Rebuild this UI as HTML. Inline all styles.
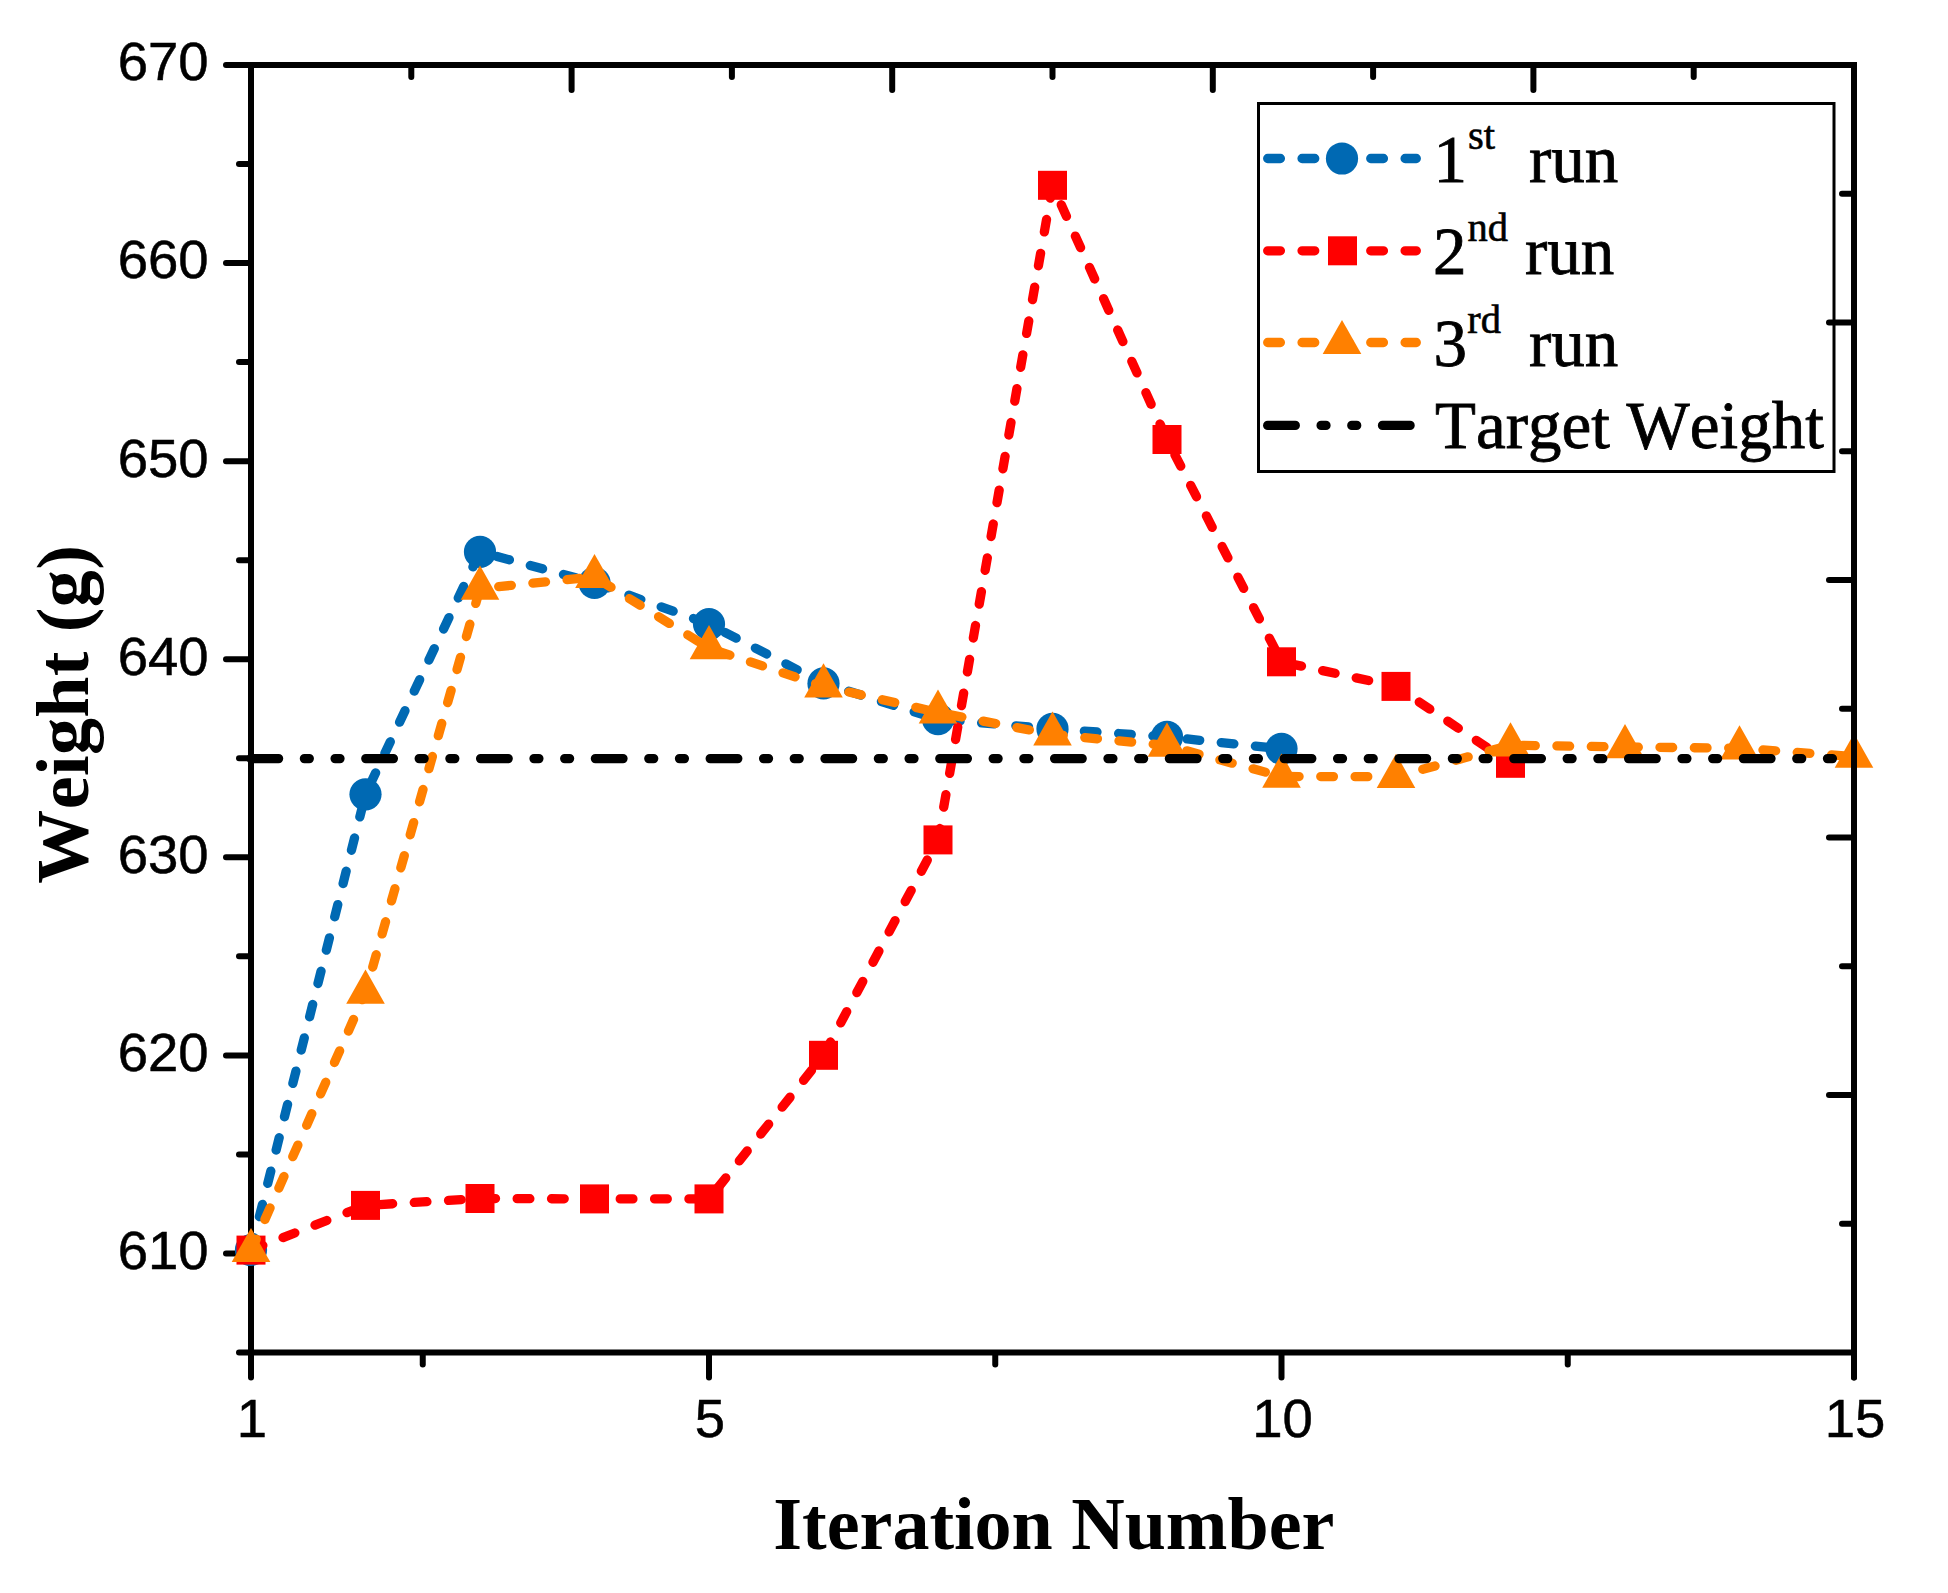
<!DOCTYPE html>
<html lang="en"><head><meta charset="utf-8"><title>Weight vs Iteration Number</title>
<style>html,body{margin:0;padding:0;background:#fff}svg{display:block}text{font-kerning:none}.tk{font-family:"Liberation Sans",sans-serif;font-size:54.5px;fill:#000;stroke:#000;stroke-width:.5px}.lg{font-family:"Liberation Serif",serif;font-size:67px;fill:#000;stroke:#000;stroke-width:.8px}.sp{font-family:"Liberation Serif",serif;font-size:40.5px;fill:#000;stroke:#000;stroke-width:.6px}.ti{font-family:"Liberation Serif",serif;font-size:74px;font-weight:bold;fill:#000}</style></head><body>
<svg width="1948" height="1593" viewBox="0 0 1948 1593">
<rect width="1948" height="1593" fill="#fff"/>
<g stroke="#000" stroke-width="6" stroke-linecap="round" fill="none">
<line x1="251.0" y1="65.0" x2="251.0" y2="1352.5" stroke-linecap="butt"/>
<line x1="251.0" y1="1352.5" x2="1854.0" y2="1352.5" stroke-linecap="butt"/>
<line x1="250.0" y1="1352.50" x2="239" y2="1352.50"/>
<line x1="250.0" y1="1253.46" x2="226" y2="1253.46"/>
<line x1="250.0" y1="1154.42" x2="239" y2="1154.42"/>
<line x1="250.0" y1="1055.38" x2="226" y2="1055.38"/>
<line x1="250.0" y1="956.35" x2="239" y2="956.35"/>
<line x1="250.0" y1="857.31" x2="226" y2="857.31"/>
<line x1="250.0" y1="758.27" x2="239" y2="758.27"/>
<line x1="250.0" y1="659.23" x2="226" y2="659.23"/>
<line x1="250.0" y1="560.19" x2="239" y2="560.19"/>
<line x1="250.0" y1="461.15" x2="226" y2="461.15"/>
<line x1="250.0" y1="362.12" x2="239" y2="362.12"/>
<line x1="250.0" y1="263.08" x2="226" y2="263.08"/>
<line x1="250.0" y1="164.04" x2="239" y2="164.04"/>
<line x1="250.0" y1="65.00" x2="226" y2="65.00"/>
<line x1="251.0" y1="1353.5" x2="251.0" y2="1377.5"/>
<line x1="709.0" y1="1353.5" x2="709.0" y2="1377.5"/>
<line x1="1281.5" y1="1353.5" x2="1281.5" y2="1377.5"/>
<line x1="1854.0" y1="1353.5" x2="1854.0" y2="1377.5"/>
<line x1="422.75" y1="1353.5" x2="422.75" y2="1364.5"/>
<line x1="995.25" y1="1353.5" x2="995.25" y2="1364.5"/>
<line x1="1567.75" y1="1353.5" x2="1567.75" y2="1364.5"/>
</g>
<g fill="none" stroke-width="9.3" stroke-linecap="round" stroke-linejoin="round" stroke-dasharray="12.7 21.65">
<polyline id="lb" stroke="#0069B3" points="251.0,1250.0 365.5,794.3 480.0,551.9 594.5,582.8 709.0,624.1 823.5,683.4 938.0,719.2 1052.5,728.9 1167.0,736.9 1281.5,748.8"/>
</g>
<g fill="#0069B3"><circle cx="251.0" cy="1250.0" r="16.1"/><circle cx="365.5" cy="794.3" r="16.1"/><circle cx="480.0" cy="551.9" r="16.1"/><circle cx="594.5" cy="582.8" r="16.1"/><circle cx="709.0" cy="624.1" r="16.1"/><circle cx="823.5" cy="683.4" r="16.1"/><circle cx="938.0" cy="719.2" r="16.1"/><circle cx="1052.5" cy="728.9" r="16.1"/><circle cx="1167.0" cy="736.9" r="16.1"/><circle cx="1281.5" cy="748.8" r="16.1"/></g>
<g fill="none" stroke-width="9.3" stroke-linecap="round" stroke-linejoin="round" stroke-dasharray="12.7 21.65">
<polyline id="lr" stroke="#FF0000" points="251.0,1250.1 365.5,1205.4 480.0,1198.5 594.5,1198.9 709.0,1198.9 823.5,1055.3 938.0,839.9 1052.5,185.3 1167.0,439.5 1281.5,661.8 1396.0,686.4 1510.5,763.3"/>
</g>
<g fill="#FF0000"><rect x="236.5" y="1235.6" width="29" height="29"/><rect x="351.0" y="1190.9" width="29" height="29"/><rect x="465.5" y="1184.0" width="29" height="29"/><rect x="580.0" y="1184.4" width="29" height="29"/><rect x="694.5" y="1184.4" width="29" height="29"/><rect x="809.0" y="1040.8" width="29" height="29"/><rect x="923.5" y="825.4" width="29" height="29"/><rect x="1038.0" y="170.8" width="29" height="29"/><rect x="1152.5" y="425.0" width="29" height="29"/><rect x="1267.0" y="647.3" width="29" height="29"/><rect x="1381.5" y="671.9" width="29" height="29"/><rect x="1496.0" y="748.8" width="29" height="29"/></g>
<g fill="none" stroke-width="9.3" stroke-linecap="round" stroke-linejoin="round" stroke-dasharray="12.7 21.65">
<polyline id="lo" stroke="#FF8000" points="251.0,1250.9 365.5,992.5 480.0,588.5 594.5,576.9 709.0,648.1 823.5,686.3 938.0,712.4 1052.5,734.4 1167.0,745.5 1281.5,776.5 1396.0,776.7 1510.5,745.2 1625.0,747.0 1739.5,748.2 1854.0,756.6"/>
</g>
<g fill="#FF8000"><polygon points="251.0,1227.9 270.3,1262.1 231.7,1262.1"/><polygon points="365.5,969.5 384.8,1003.7 346.2,1003.7"/><polygon points="480.0,565.5 499.3,599.7 460.7,599.7"/><polygon points="594.5,553.9 613.8,588.1 575.2,588.1"/><polygon points="709.0,625.1 728.3,659.3 689.7,659.3"/><polygon points="823.5,663.3 842.8,697.5 804.2,697.5"/><polygon points="938.0,689.4 957.3,723.6 918.7,723.6"/><polygon points="1052.5,711.4 1071.8,745.6 1033.2,745.6"/><polygon points="1167.0,722.5 1186.3,756.7 1147.7,756.7"/><polygon points="1281.5,753.5 1300.8,787.7 1262.2,787.7"/><polygon points="1396.0,753.7 1415.3,787.9 1376.7,787.9"/><polygon points="1510.5,722.2 1529.8,756.4 1491.2,756.4"/><polygon points="1625.0,724.0 1644.3,758.2 1605.7,758.2"/><polygon points="1739.5,725.2 1758.8,759.4 1720.2,759.4"/><polygon points="1854.0,733.6 1873.3,767.8 1834.7,767.8"/></g>
<line x1="251.0" y1="758.6" x2="1854.0" y2="758.6" stroke="#000" stroke-width="9.3" stroke-linecap="round" stroke-dasharray="27.6 25.8 4.9 25.8 4.9 25.8"/>
<g stroke="#000" stroke-width="6" stroke-linecap="round" fill="none">
<line x1="248.0" y1="65.0" x2="1857.0" y2="65.0" stroke-linecap="butt"/>
<line x1="1854.0" y1="65.0" x2="1854.0" y2="1352.5" stroke-linecap="butt"/>
<line x1="411.30" y1="66.0" x2="411.30" y2="77"/>
<line x1="571.60" y1="66.0" x2="571.60" y2="90"/>
<line x1="731.90" y1="66.0" x2="731.90" y2="77"/>
<line x1="892.20" y1="66.0" x2="892.20" y2="90"/>
<line x1="1052.50" y1="66.0" x2="1052.50" y2="77"/>
<line x1="1212.80" y1="66.0" x2="1212.80" y2="90"/>
<line x1="1373.10" y1="66.0" x2="1373.10" y2="77"/>
<line x1="1533.40" y1="66.0" x2="1533.40" y2="90"/>
<line x1="1693.70" y1="66.0" x2="1693.70" y2="77"/>
</g>
<rect x="1258.5" y="103.5" width="575.5" height="368" fill="#fff" stroke="#000" stroke-width="3"/>
<g fill="none" stroke-width="9.3" stroke-linecap="round">
<line x1="1267.7" y1="158.5" x2="1416.3" y2="158.5" stroke="#0069B3" stroke-dasharray="12.7 21.65"/>
<line x1="1267.7" y1="250.8" x2="1416.3" y2="250.8" stroke="#FF0000" stroke-dasharray="12.7 21.65"/>
<line x1="1267.7" y1="342.5" x2="1416.3" y2="342.5" stroke="#FF8000" stroke-dasharray="12.7 21.65"/>
<line x1="1267.7" y1="425.4" x2="1416.3" y2="425.4" stroke="#000" stroke-dasharray="27.6 25.8 4.9 25.8 4.9 25.8"/>
</g>
<circle cx="1342.0" cy="158.5" r="16.1" fill="#0069B3"/>
<rect x="1328.0" y="236.3" width="29" height="29" fill="#FF0000"/>
<g fill="#FF8000"><polygon points="1342.0,319.9 1361.3,354.1 1322.7,354.1"/></g>
<text id="l1" class="lg" x="1433.5" y="181.5">1</text><text id="l1s" class="sp" x="1468" y="148.8">st</text><text id="l1r" class="lg" x="1529" y="181.5">run</text>
<text id="l2" class="lg" x="1433" y="273.8">2</text><text id="l2s" class="sp" x="1467.5" y="240.8">nd</text><text id="l2r" class="lg" x="1525" y="273.8">run</text>
<text id="l3" class="lg" x="1433.5" y="365.6">3</text><text id="l3s" class="sp" x="1467.3" y="332.7">rd</text><text id="l3r" class="lg" x="1529" y="365.6">run</text>
<text id="l4" class="lg" x="1435" y="448.1">Target Weight</text>
<g stroke="#000" stroke-width="6" stroke-linecap="round" fill="none">
<line x1="1853.0" y1="193.75" x2="1842" y2="193.75"/>
<line x1="1853.0" y1="322.50" x2="1829" y2="322.50"/>
<line x1="1853.0" y1="451.25" x2="1842" y2="451.25"/>
<line x1="1853.0" y1="580.00" x2="1829" y2="580.00"/>
<line x1="1853.0" y1="708.75" x2="1842" y2="708.75"/>
<line x1="1853.0" y1="837.50" x2="1829" y2="837.50"/>
<line x1="1853.0" y1="966.25" x2="1842" y2="966.25"/>
<line x1="1853.0" y1="1095.00" x2="1829" y2="1095.00"/>
<line x1="1853.0" y1="1223.75" x2="1842" y2="1223.75"/>
<line x1="1854.0" y1="1353.5" x2="1854.0" y2="1377.5"/>
</g>
<text class="tk" id="y610" x="208.6" y="1268.8" text-anchor="end">610</text>
<text class="tk" id="y620" x="208.6" y="1070.7" text-anchor="end">620</text>
<text class="tk" id="y630" x="208.6" y="872.6" text-anchor="end">630</text>
<text class="tk" id="y640" x="208.6" y="674.5" text-anchor="end">640</text>
<text class="tk" id="y650" x="208.6" y="476.5" text-anchor="end">650</text>
<text class="tk" id="y660" x="208.6" y="278.4" text-anchor="end">660</text>
<text class="tk" id="y670" x="208.6" y="80.3" text-anchor="end">670</text>
<text class="tk" id="x1" x="252.0" y="1437.3" text-anchor="middle">1</text>
<text class="tk" id="x5" x="710.0" y="1437.3" text-anchor="middle">5</text>
<text class="tk" id="x10" x="1282.5" y="1437.3" text-anchor="middle">10</text>
<text class="tk" id="x15" x="1855.0" y="1437.3" text-anchor="middle">15</text>
<text id="xt" class="ti" x="1053.8" y="1549" text-anchor="middle">Iteration Number</text>
<text id="yt" class="ti" transform="translate(88.3 714.2) rotate(-90)" text-anchor="middle" letter-spacing="0.4">Weight (g)</text>
</svg></body></html>
